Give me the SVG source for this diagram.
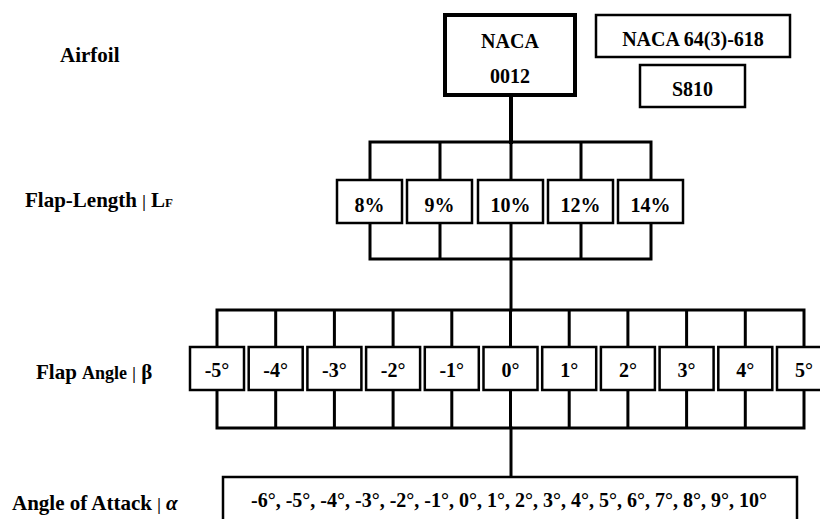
<svg xmlns="http://www.w3.org/2000/svg" width="820" height="519" viewBox="0 0 820 519">
<style>
text{font-family:"Liberation Serif","Times New Roman",serif;font-weight:bold;fill:#000}
.lbl{font-size:21px}
.bt{font-size:20px;text-anchor:middle}
.box{fill:#fff;stroke:#000;stroke-width:2.5}
.con{stroke:#000;stroke-width:3;fill:none;stroke-linecap:square}
.bar{font-size:16px;fill:#000}
</style>
<rect width="820" height="519" fill="#fff"/>
<g id="labels">
<text class="lbl" x="60" y="62">Airfoil</text>
<text class="lbl" x="25" y="207">Flap-Length <tspan class="bar">|</tspan> L<tspan font-size="13">F</tspan></text>
<text class="lbl" x="36" y="379">Flap <tspan font-size="18">Angle</tspan> <tspan class="bar">|</tspan> β</text>
<text class="lbl" x="12" y="510">Angle of Attack <tspan class="bar">|</tspan> <tspan font-style="italic" fill="#000">α</tspan></text>
</g>
<g id="connectors" class="con">
<line x1="511" y1="95" x2="511" y2="142" stroke-width="4"/>
<path d="M370 180V142H651V180M440 142V180M511 142V180M581 142V180"/>
<path d="M370 223V259H651V223M440 259V223M511 259V223M581 259V223"/>
<line x1="511" y1="259" x2="511" y2="310"/>
<path d="M217 347V310H804V347M275.7 310V347M334.4 310V347M393.1 310V347M451.8 310V347M510.5 310V347M569.2 310V347M627.9 310V347M686.6 310V347M745.3 310V347"/>
<path d="M217 390V428H804V390M275.7 428V390M334.4 428V390M393.1 428V390M451.8 428V390M510.5 428V390M569.2 428V390M627.9 428V390M686.6 428V390M745.3 428V390"/>
<line x1="511" y1="428" x2="511" y2="477"/>
</g>
<g id="naca0012">
<rect x="445" y="15" width="130" height="80" fill="#fff" stroke="#000" stroke-width="4"/>
<text class="bt" x="510" y="48">NACA</text>
<text class="bt" x="510" y="83">0012</text>
</g>
<g id="naca64">
<rect class="box" x="596" y="15" width="194" height="42"/>
<text class="bt" x="693" y="46">NACA 64(3)-618</text>
</g>
<g id="s810">
<rect class="box" x="640" y="65" width="105" height="42"/>
<text class="bt" x="692.5" y="96">S810</text>
</g>
<g id="lf8"><rect class="box" x="337" y="180" width="65" height="43"/><text class="bt" x="369.5" y="212">8%</text></g>
<g id="lf9"><rect class="box" x="407" y="180" width="65" height="43"/><text class="bt" x="439.5" y="212">9%</text></g>
<g id="lf10"><rect class="box" x="478" y="180" width="65" height="43"/><text class="bt" x="510.5" y="212">10%</text></g>
<g id="lf12"><rect class="box" x="548" y="180" width="65" height="43"/><text class="bt" x="580.5" y="212">12%</text></g>
<g id="lf14"><rect class="box" x="618" y="180" width="65" height="43"/><text class="bt" x="650.5" y="212">14%</text></g>
<g id="fa-5"><rect class="box" x="190" y="347" width="54" height="43"/><text class="bt" x="217" y="377">-5°</text></g>
<g id="fa-4"><rect class="box" x="248.7" y="347" width="54" height="43"/><text class="bt" x="275.7" y="377">-4°</text></g>
<g id="fa-3"><rect class="box" x="307.4" y="347" width="54" height="43"/><text class="bt" x="334.4" y="377">-3°</text></g>
<g id="fa-2"><rect class="box" x="366.1" y="347" width="54" height="43"/><text class="bt" x="393.1" y="377">-2°</text></g>
<g id="fa-1"><rect class="box" x="424.8" y="347" width="54" height="43"/><text class="bt" x="451.8" y="377">-1°</text></g>
<g id="fa0"><rect class="box" x="483.5" y="347" width="54" height="43"/><text class="bt" x="510.5" y="377">0°</text></g>
<g id="fa1"><rect class="box" x="542.2" y="347" width="54" height="43"/><text class="bt" x="569.2" y="377">1°</text></g>
<g id="fa2"><rect class="box" x="600.9" y="347" width="54" height="43"/><text class="bt" x="627.9" y="377">2°</text></g>
<g id="fa3"><rect class="box" x="659.6" y="347" width="54" height="43"/><text class="bt" x="686.6" y="377">3°</text></g>
<g id="fa4"><rect class="box" x="718.3" y="347" width="54" height="43"/><text class="bt" x="745.3" y="377">4°</text></g>
<g id="fa5"><rect class="box" x="777" y="347" width="54" height="43"/><text class="bt" x="804" y="377">5°</text></g>
<g id="aoa">
<rect class="box" x="223" y="477" width="574" height="50"/>
<text class="bt" x="509" y="507" font-size="19.5">-6°, -5°, -4°, -3°, -2°, -1°, 0°, 1°, 2°, 3°, 4°, 5°, 6°, 7°, 8°, 9°, 10°</text>
</g>
</svg>
